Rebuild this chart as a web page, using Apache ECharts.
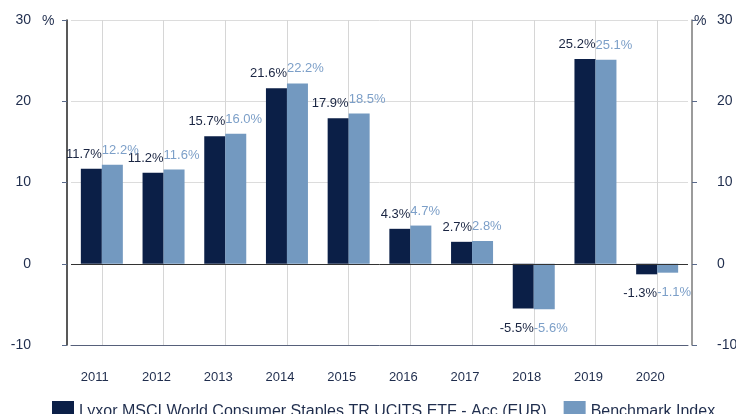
<!DOCTYPE html>
<html><head><meta charset="utf-8">
<script src="https://cdn.jsdelivr.net/npm/echarts@6/dist/echarts.min.js"></script>
<style>html,body{margin:0;padding:0;background:#fff}#c{width:736px;height:414px}</style>
</head><body><div id="c"></div>
<script>
const categories = ['2011','2012','2013','2014','2015','2016','2017','2018','2019','2020'];
const fundValues = [11.7, 11.2, 15.7, 21.6, 17.9, 4.3, 2.7, -5.5, 25.2, -1.3];
const benchValues = [12.2, 11.6, 16.0, 22.2, 18.5, 4.7, 2.8, -5.6, 25.1, -1.1];
const fundName = 'Lyxor MSCI World Consumer Staples TR UCITS ETF - Acc (EUR)';
const benchName = 'Benchmark Index';
const yTicks = [-10, 0, 10, 20, 30];

const FONT = 'Liberation Sans, Arial, sans-serif';
const DARK = '#0b1f47';
const LIGHT = '#7399c0';
const BW = 21;

function labelItems(vals, color, align, off) {
  return vals.map(v => ({
    value: v,
    label: {
      show: true,
      position: v >= 0 ? 'top' : 'bottom',
      distance: v >= 0 ? 8 : 13,
      align: align,
      offset: [off, 0],
      color: color,
      fontSize: 13,
      fontFamily: FONT,
      formatter: p => p.value.toFixed(1) + '%'
    }
  }));
}

const chart = echarts.init(document.getElementById('c'), null, {renderer: 'canvas'});
const yCommon = {
  type: 'value', min: yTicks[0], max: yTicks[yTicks.length - 1], interval: 10,
  axisLabel: {color: '#1f2d4d', fontSize: 14, fontFamily: FONT},
  axisTick: {show: true, length: 5, lineStyle: {color: '#5a6a8a'}}
};
chart.setOption({
  animation: false,
  grid: {left: 71, right: 48, top: 20, bottom: 69, containLabel: false, outerBoundsMode: 'none'},
  legend: {
    left: 47, top: 396, itemWidth: 22, itemHeight: 22, itemGap: 17, icon: 'rect',
    textStyle: {fontSize: 16, fontFamily: FONT, color: '#1f2d4d'},
    data: [fundName, benchName]
  },
  xAxis: {
    type: 'category', data: categories,
    axisLine: {onZero: false, lineStyle: {color: '#56607a', width: 1}},
    axisTick: {show: false},
    axisLabel: {color: '#1f2d4d', fontSize: 13, fontFamily: FONT, margin: 26, padding: [0, 14, 0, 0]},
    splitLine: {show: false}
  },
  yAxis: [
    Object.assign({}, yCommon, {
      position: 'left', offset: 4,
      axisLine: {show: true, lineStyle: {color: '#222', width: 1.5}},
      axisLabel: Object.assign({}, yCommon.axisLabel, {margin: 36}),
      splitLine: {show: true, lineStyle: {color: '#dcdcdc', width: 1}}
    }),
    Object.assign({}, yCommon, {
      position: 'right', offset: 4,
      axisLine: {show: true, lineStyle: {color: '#7a7a7a', width: 1.5}},
      axisLabel: Object.assign({}, yCommon.axisLabel, {margin: 25}),
      splitLine: {show: false}
    })
  ],
  series: [
    {
      name: 'grid', type: 'line', data: [], z: 0, silent: true,
      markLine: {
        silent: true, symbol: ['none', 'none'], label: {show: false}, z: 0,
        lineStyle: {color: '#d6d6d6', type: 'solid', width: 1},
        data: categories.map(c => ({xAxis: c}))
      }
    },
    {
      name: fundName, type: 'bar', barWidth: BW, barGap: '0%', z: 2,
      itemStyle: {color: DARK},
      data: labelItems(fundValues, '#1a2542', 'right', BW / 2)
    },
    {
      name: benchName, type: 'bar', barWidth: BW, barGap: '0%', z: 2,
      itemStyle: {color: LIGHT},
      data: labelItems(benchValues, '#7c9fc8', 'left', -BW / 2),
      markLine: {
        silent: true, symbol: ['none', 'none'], label: {show: false},
        lineStyle: {color: '#333', type: 'solid', width: 1},
        data: [{yAxis: 0}]
      }
    }
  ],
  graphic: [
    {type: 'text', left: 42, top: 14, style: {text: '%', fontSize: 14, fontFamily: FONT, fill: '#1f2d4d'}},
    {type: 'text', left: 694, top: 14, style: {text: '%', fontSize: 14, fontFamily: FONT, fill: '#1f2d4d'}}
  ]
});
</script></body></html>
